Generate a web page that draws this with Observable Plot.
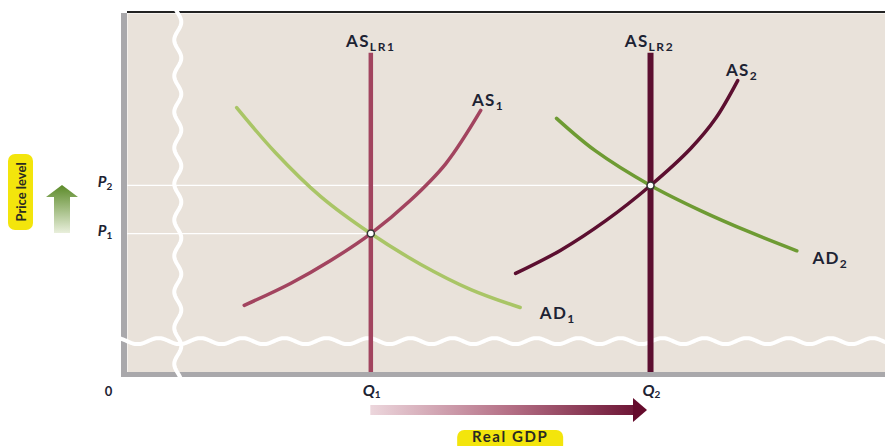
<!DOCTYPE html>
<html><head><meta charset="utf-8">
<script src="https://cdn.jsdelivr.net/npm/d3@7"></script>
<script src="https://cdn.jsdelivr.net/npm/@observablehq/plot@0.6"></script>
<style>
html,body{margin:0;padding:0;background:#fff;}
#chart svg{display:block;}
#chart g[font-size="17"]{letter-spacing:1.3px;}
#chart g[font-size="12"]{letter-spacing:1.6px;}
</style></head><body><div id="chart"></div>
<script>
// ---- data (abstract units: real GDP 0-100, price level 0-100) ----
const Q1 = 32.1, Q2 = 69.0;          // long-run output levels
const P1 = 38.7, P2 = 52.1;          // equilibrium price levels
const LR_TOP = 88.9;                 // top of the long-run AS lines
const as1X = [15.4, 21.5, 26.8, 32.1, 37.3, 42.0, 46.6];
const as1Y = [18.7, 24.8, 31.2, 38.7, 47.9, 58.2, 73.0];
const as2X = [51.2, 57.1, 63.1, 69.0, 74.3, 77.6, 80.5];
const as2Y = [27.6, 34.0, 42.3, 52.1, 62.4, 70.8, 81.3];
const ad1X = [14.4, 19.5, 25.5, 32.1, 38.7, 45.3, 51.8];
const ad1Y = [73.8, 61.3, 49.0, 38.7, 30.1, 23.1, 18.1];
const ad2X = [56.6, 61.7, 69.0, 75.6, 82.2, 88.3];
const ad2Y = [70.8, 61.8, 52.1, 45.1, 39.0, 33.9];
const pTicks = ["P", "P"], pSubs = ["1", "2"];
const qTicks = ["Q", "Q"], qSubs = ["1", "2"];
const yTitle = "Price level", xTitle = "Real GDP";

const zip = (xs, ys) => xs.map((x, i) => ({x, y: ys[i]}));
const last = a => a[a.length - 1];

const ROSE = "#a2445f", MAROON = "#5c0f30", LGREEN = "#a9c566", GREEN = "#6e9b33";
const BG = "#e9e2da", GRAY = "#a9a8ab", INK = "#1d2333", YEL = "#f3e50c";
const FONT = "Lato, 'Open Sans', sans-serif";

const labels = [
  {x: Q1, y: LR_TOP, main: "AS", sub: "LR1", dx: -1, dy: -6},
  {x: Q2, y: LR_TOP, main: "AS", sub: "LR2", dx: -2, dy: -6},
  {x: last(as1X), y: last(as1Y), main: "AS", sub: "1", dx: 15, dy: -4},
  {x: last(as2X), y: last(as2Y), main: "AS", sub: "2", dx: 12, dy: -5},
  {x: last(ad1X), y: last(ad1Y), main: "AD", sub: "1", dx: 47, dy: 11},
  {x: last(ad2X), y: last(ad2Y), main: "AD", sub: "2", dx: 43, dy: 13}
];

// decoration: panel bars, break lines (drawn through the plot's scales)
function panelDeco(index, scales, values, dim, ctx) {
  const sx = scales.x, sy = scales.y;
  const g = d3.create("svg:g");
  const x0 = sx(0), x1 = sx(100), yT = sy(100), yB = sy(0);
  g.append("line").attr("x1", x0).attr("x2", x1).attr("y1", yT - 1).attr("y2", yT - 1)
    .attr("stroke", "#222").attr("stroke-width", 2);
  g.append("rect").attr("x", x0 - 6).attr("y", yT).attr("width", 6).attr("height", yB - yT + 5).attr("fill", GRAY);
  g.append("rect").attr("x", x0 - 6).attr("y", yB).attr("width", x1 - x0 + 6).attr("height", 5).attr("fill", GRAY);
  // break lines
  const bx = sx(6.7), by = sy(8.6);
  const v = d3.range(yT - 3, yB + 7, 1).map(y => [bx + 3.5 * Math.sin(2 * Math.PI * (y - yT) / 36), y]);
  const h = d3.range(x0 - 8, x1 + 2, 1).map(x => [x, by + 3 * Math.sin(2 * Math.PI * (x - x0) / 42)]);
  const line = d3.line();
  g.append("path").attr("d", line(h)).attr("fill", "none").attr("stroke", "#fff").attr("stroke-width", 4);
  g.append("path").attr("d", line(v)).attr("fill", "none").attr("stroke", "#fff").attr("stroke-width", 4);
  return g.node();
}

// decoration: axis titles with highlight, direction arrows
function axisDeco(index, scales, values, dim, ctx) {
  const sx = scales.x, sy = scales.y;
  const g = d3.create("svg:g");
  const defs = g.append("defs");
  const xa = sx(Q1), xb = sx(Q2), ay = sy(0) + 38;
  const gr1 = defs.append("linearGradient").attr("id", "gdpGrad").attr("gradientUnits", "userSpaceOnUse")
    .attr("x1", xa).attr("x2", xb).attr("y1", 0).attr("y2", 0);
  gr1.append("stop").attr("offset", 0).attr("stop-color", "#ecd6dc");
  gr1.append("stop").attr("offset", 0.5).attr("stop-color", "#b46f85");
  gr1.append("stop").attr("offset", 1).attr("stop-color", "#650b2c");
  g.append("rect").attr("x", xa).attr("y", ay - 5).attr("width", xb - xa - 16).attr("height", 10).attr("fill", "url(#gdpGrad)");
  g.append("path").attr("d", `M${xb - 17},${ay - 12}L${xb - 3},${ay}L${xb - 17},${ay + 12}Z`).attr("fill", "#650b2c");

  const ya = sy(P2), yb = sy(P1), gx = 62;
  const gr2 = defs.append("linearGradient").attr("id", "plGrad").attr("gradientUnits", "userSpaceOnUse")
    .attr("x1", 0).attr("x2", 0).attr("y1", ya).attr("y2", yb);
  gr2.append("stop").attr("offset", 0).attr("stop-color", "#5b8a28");
  gr2.append("stop").attr("offset", 1).attr("stop-color", "#e9efdc");
  g.append("path").attr("d",
    `M${gx},${ya}L${gx + 16},${ya + 12}L${gx + 8},${ya + 12}L${gx + 8},${yb}L${gx - 8},${yb}L${gx - 8},${ya + 12}L${gx - 16},${ya + 12}Z`)
    .attr("fill", "url(#plGrad)");

  // highlighted titles
  const cx = (xa + xb) / 2;
  g.append("rect").attr("x", cx - 53).attr("y", 430).attr("width", 106).attr("height", 22).attr("rx", 7).attr("fill", YEL);
  g.append("text").attr("x", cx).attr("y", 442).attr("text-anchor", "middle").attr("font-family", FONT)
    .attr("font-weight", 700).attr("font-size", 15).attr("letter-spacing", 1.6).attr("fill", "#2a2a22").text(xTitle);
  const cy = ya + 7;
  g.append("rect").attr("x", 8).attr("y", cy - 38).attr("width", 25).attr("height", 76).attr("rx", 7).attr("fill", YEL);
  g.append("text").attr("transform", `translate(25.5,${cy}) rotate(-90)`).attr("text-anchor", "middle")
    .attr("font-family", FONT).attr("font-weight", 700).attr("font-size", 13).attr("fill", "#2a2a22").text(yTitle);
  return g.node();
}

const textBase = {fontFamily: FONT, fontWeight: 700, fill: INK, lineAnchor: "bottom"};

const marks = [
  Plot.frame({fill: BG, stroke: null}),
  panelDeco,
  Plot.ruleY([P1, P2], {x1: 0, x2: [Q1, Q2], stroke: "#fff", strokeWidth: 1.3}),
  Plot.line(zip(ad1X, ad1Y), {x: "x", y: "y", curve: "catmull-rom", stroke: LGREEN, strokeWidth: 3.5}),
  Plot.line(zip(ad2X, ad2Y), {x: "x", y: "y", curve: "catmull-rom", stroke: GREEN, strokeWidth: 3.5}),
  Plot.line(zip(as1X, as1Y), {x: "x", y: "y", curve: "catmull-rom", stroke: ROSE, strokeWidth: 3.5}),
  Plot.line(zip(as2X, as2Y), {x: "x", y: "y", curve: "catmull-rom", stroke: MAROON, strokeWidth: 3.5}),
  Plot.ruleX([Q1], {y1: 0, y2: LR_TOP, stroke: ROSE, strokeWidth: 4.5}),
  Plot.ruleX([Q2], {y1: 0, y2: LR_TOP, stroke: MAROON, strokeWidth: 6}),
  Plot.dot([{x: Q1, y: P1}, {x: Q2, y: P2}], {x: "x", y: "y", r: 3.5, fill: "#fff", stroke: "#333", strokeWidth: 1.5}),
  ...labels.flatMap(l => [
    Plot.text([l], {...textBase, x: "x", y: "y", text: "main", textAnchor: "end", dx: l.dx, dy: l.dy, fontSize: 17}),
    Plot.text([l], {...textBase, x: "x", y: "y", text: "sub", textAnchor: "start", dx: l.dx, dy: l.dy + 4, fontSize: 12})
  ]),
  // price-level ticks
  ...[P1, P2].flatMap((p, i) => [
    Plot.text([p], {...textBase, x: 0, y: d => d, text: () => pTicks[i], textAnchor: "end", dx: -21, dy: 2, fontSize: 15, fontStyle: "italic"}),
    Plot.text([p], {...textBase, x: 0, y: d => d, text: () => pSubs[i], textAnchor: "start", dx: -21, dy: 5, fontSize: 10})
  ]),
  // real-GDP ticks
  ...[Q1, Q2].flatMap((q, i) => [
    Plot.text([q], {...textBase, x: d => d, y: 0, text: () => qTicks[i], textAnchor: "end", dx: 4, dy: 23, fontSize: 16, fontStyle: "italic"}),
    Plot.text([q], {...textBase, x: d => d, y: 0, text: () => qSubs[i], textAnchor: "start", dx: 4, dy: 25, fontSize: 10})
  ]),
  Plot.text([0], {...textBase, x: 0, y: 0, text: () => "0", textAnchor: "middle", dx: -19, dy: 23, fontSize: 13}),
  axisDeco
];

const plot = Plot.plot({
  width: 885, height: 446,
  marginLeft: 127, marginRight: 0, marginTop: 13, marginBottom: 74,
  x: {domain: [0, 100], axis: null},
  y: {domain: [0, 100], axis: null},
  style: {fontFamily: FONT, background: "transparent", overflow: "visible"},
  marks
});
document.getElementById("chart").appendChild(plot);
</script></body></html>
